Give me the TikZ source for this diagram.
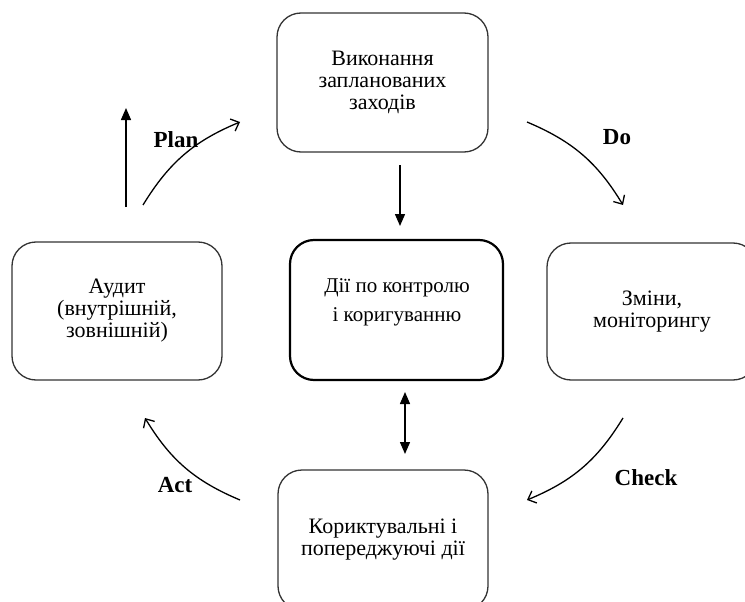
\documentclass[tikz,border=0pt]{standalone}
\usepackage{fontspec}
\setmainfont{Liberation Serif}
\usetikzlibrary{arrows.meta}
\begin{document}
\begin{tikzpicture}[x=1pt,y=-1pt,
  box/.style={draw=black!80, line width=1.3pt, rounded corners=24pt, inner sep=0pt, align=center,
    font=\fontsize{22}{22}\selectfont},
  mainbox/.style={draw=black, line width=2.2pt, rounded corners=24pt, inner sep=0pt},
  ctxt/.style={align=center, inner sep=0pt, font=\fontsize{21}{29}\selectfont},
  lbl/.style={inner sep=0pt, font=\fontsize{23}{26}\selectfont\bfseries},
  arc/.style={line width=1.3pt, -{Straight Barb[length=7pt,width=13pt,line width=1.3pt]}},
  solidarr/.style={line width=1.4pt, -{Triangle[length=12pt,width=10pt]}},
  dblarr/.style={line width=1.4pt, {Triangle[length=12pt,width=10pt]}-{Triangle[length=12pt,width=10pt]}}
]
\useasboundingbox (0,0) rectangle (745,602);
\clip (0,0) rectangle (745,602);

% boxes
\node[box, minimum width=211pt, minimum height=139pt] (top) at (382.5,82.5)
  {Виконання\\запланованих\\заходів};
\node[box, minimum width=210pt, minimum height=138pt] (left) at (117,311)
  {Аудит\\(внутрішній,\\зовнішній)};
\node[mainbox, minimum width=213pt, minimum height=140pt] (center) at (396.5,310) {};
\node[ctxt] (ctext) at (397,302) {Дії по контролю\\і коригуванню};
\node[box, minimum width=210pt, minimum height=137pt] (right) at (652,311.5)
  {Зміни,\\моніторингу};
\node[box, minimum width=210pt, minimum height=140pt] (bottom) at (383,540)
  {Кориктувальні і\\попереджуючі дії};

% straight arrows
\coordinate (u1) at (126,207);
\coordinate (u2) at (126,108);
\draw[solidarr] (u1) -- (u2);
\coordinate (d1) at (400,165);
\coordinate (d2) at (400,226);
\draw[solidarr] (d1) -- (d2);
\coordinate (b1) at (405,392);
\coordinate (b2) at (405,454);
\draw[dblarr] (b1) -- (b2);

% cycle arcs
\coordinate (p1) at (143,205);
\coordinate (p2) at (240,122);
\draw[arc] (p1) to[bend left=18] (p2);
\coordinate (o1) at (527,122);
\coordinate (o2) at (623,205);
\draw[arc] (o1) to[bend left=18] (o2);
\coordinate (c1) at (623,418);
\coordinate (c2) at (527,500);
\draw[arc] (c1) to[bend left=18] (c2);
\coordinate (a1) at (240,500);
\coordinate (a2) at (145,418);
\draw[arc] (a1) to[bend left=18] (a2);

% labels
\node[lbl] (plan) at (176,140) {Plan};
\node[lbl] (do) at (617,137) {Do};
\node[lbl] (check) at (646,478) {Check};
\node[lbl] (act) at (175,485) {Act};
\end{tikzpicture}
\end{document}
